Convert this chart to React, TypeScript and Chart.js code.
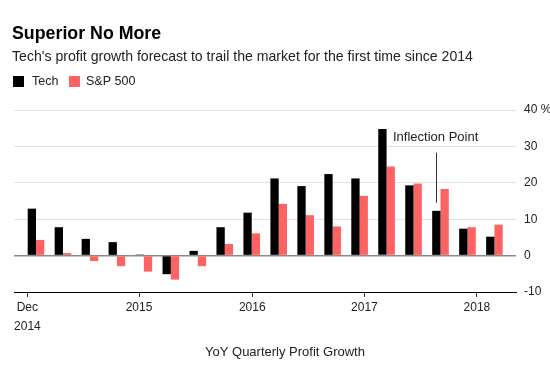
import { useEffect, useRef } from "react";
import { Chart, registerables } from "chart.js";

Chart.register(...registerables);

// Quarterly YoY profit growth, Q4 2014 through Q1 2019 (last ones forecast)
const quarters = [
  "Q4 2014", "Q1 2015", "Q2 2015", "Q3 2015", "Q4 2015", "Q1 2016",
  "Q2 2016", "Q3 2016", "Q4 2016", "Q1 2017", "Q2 2017", "Q3 2017",
  "Q4 2017", "Q1 2018", "Q2 2018", "Q3 2018", "Q4 2018", "Q1 2019",
];
const techGrowth = [12.9, 7.8, 4.6, 3.7, 0.3, -5.1, 1.3, 7.8, 11.8, 21.2, 19.1, 22.4, 21.2, 34.8, 19.3, 12.3, 7.4, 5.2];
const spGrowth = [4.3, 0.7, -1.5, -2.9, -4.4, -6.6, -2.9, 3.2, 6.1, 14.2, 11.1, 8.0, 16.4, 24.5, 19.8, 18.3, 7.8, 8.5];

// Year ticks, expressed in quarter-index units of the x axis
const xTickValues = [-0.32, 3.82, 8.02, 12.18, 16.35];
const xTickLabels: (string | string[])[] = [["Dec", "2014"], "2015", "2016", "2017", "2018"];
const yTickValues = [-10, 0, 10, 20, 30, 40];

const inflectionIndex = 15;
const title = "Superior No More";
const subtitle = "Tech's profit growth forecast to trail the market for the first time since 2014";
const caption = "YoY Quarterly Profit Growth";

const TECH_COLOR = "#000000";
const SP_COLOR = "#ff6262";
const FONT = "'Liberation Sans', Arial, Helvetica, sans-serif";

export default function App() {
  const ref = useRef<HTMLCanvasElement | null>(null);

  useEffect(() => {
    document.body.style.margin = "0";
    const canvas = ref.current;
    if (!canvas) return;

    const overlay = {
      id: "overlay",
      afterDraw(chart: any) {
        const ctx = chart.ctx as CanvasRenderingContext2D;
        const ys = chart.scales.y;
        ctx.save();
        ctx.textAlign = "left";
        ctx.textBaseline = "alphabetic";
        ctx.fillStyle = "#000";
        ctx.font = `bold 17.8px ${FONT}`;
        ctx.fillText(title, 12, 38.5);
        ctx.fillStyle = "#222";
        ctx.font = `14.1px ${FONT}`;
        ctx.fillText(subtitle, 12, 60.5);

        // legend
        ctx.textBaseline = "middle";
        ctx.font = `12.5px ${FONT}`;
        ctx.fillStyle = TECH_COLOR;
        ctx.fillRect(13, 76, 11, 11);
        ctx.fillStyle = "#222";
        ctx.fillText("Tech", 32, 82);
        ctx.fillStyle = SP_COLOR;
        ctx.fillRect(69, 76, 11, 11);
        ctx.fillStyle = "#222";
        ctx.fillText("S&P 500", 86, 82);

        // annotation
        const bar = chart.getDatasetMeta(0).data[inflectionIndex];
        const lx = Math.round(bar.x) + 0.5;
        ctx.strokeStyle = "#333";
        ctx.lineWidth = 1;
        ctx.beginPath();
        ctx.moveTo(lx, ys.getPixelForValue(28.3));
        ctx.lineTo(lx, ys.getPixelForValue(14.5));
        ctx.stroke();
        ctx.font = `13px ${FONT}`;
        ctx.fillStyle = "#222";
        ctx.fillText("Inflection Point", 393, ys.getPixelForValue(32.6));

        // caption
        ctx.textAlign = "center";
        ctx.font = `13px ${FONT}`;
        ctx.fillText(caption, 285, 352);
        ctx.restore();
      },
    };

    const chart = new Chart(canvas, {
      type: "bar",
      data: {
        labels: quarters,
        datasets: [
          {
            label: "Tech",
            data: techGrowth.map((v, i) => ({ x: i, y: v })),
            backgroundColor: TECH_COLOR,
            barPercentage: 1,
            categoryPercentage: 0.616,
          },
          {
            label: "S&P 500",
            data: spGrowth.map((v, i) => ({ x: i, y: v })),
            backgroundColor: SP_COLOR,
            barPercentage: 1,
            categoryPercentage: 0.616,
          },
        ],
      },
      options: {
        animation: false,
        responsive: false,
        maintainAspectRatio: false,
        layout: { padding: { top: 110, left: 14, right: 0, bottom: 0 } },
        plugins: {
          legend: { display: false },
          tooltip: { enabled: false },
          title: { display: false },
        },
        scales: {
          x: {
            type: "linear",
            min: -0.816,
            max: 17.8,
            offset: false,
            afterBuildTicks(axis: any) {
              axis.ticks = xTickValues.map((v) => ({ value: v }));
            },
            afterFit(axis: any) {
              axis.height = 75;
            },
            ticks: {
              autoSkip: false,
              maxRotation: 0,
              padding: 2,
              color: "#222",
              font: { family: FONT, size: 12, lineHeight: 1.53 },
              callback: (_v: any, i: number) => xTickLabels[i],
            },
            grid: {
              offset: false,
              drawOnChartArea: false,
              drawTicks: true,
              tickLength: 5,
              color: "#333",
            },
            border: { display: true, color: "#000", width: 1 },
          },
          y: {
            position: "right",
            min: -10,
            max: 40,
            afterBuildTicks(axis: any) {
              axis.ticks = yTickValues.map((v) => ({ value: v }));
            },
            afterFit(axis: any) {
              axis.width = 34;
            },
            ticks: {
              padding: 8,
              color: "#222",
              font: { family: FONT, size: 12 },
              callback: (v: any) => (v === 40 ? "40 %" : String(v)),
            },
            grid: {
              drawTicks: false,
              color: (c: any) => (c.tick && c.tick.value === 0 ? "#8a8a8a" : c.tick && c.tick.value === -10 ? "#000" : "#e2e2e2"),
              lineWidth: (c: any) => (c.tick && c.tick.value === 0 ? 1.5 : 1),
            },
            border: { display: false },
          },
        },
      },
      plugins: [overlay],
    });

    return () => chart.destroy();
  }, []);

  return <canvas ref={ref} width={550} height={367} style={{ display: "block" }} />;
}
